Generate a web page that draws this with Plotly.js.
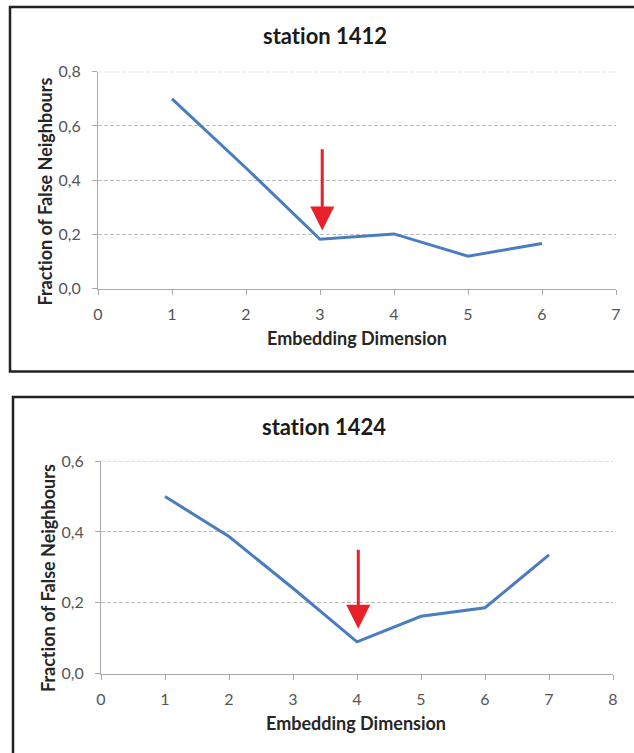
<!DOCTYPE html>
<html>
<head>
<meta charset="utf-8">
<script src="https://cdn.plot.ly/plotly-3.0.1.min.js"></script>
<style>html,body{margin:0;padding:0;background:#fff;}#chart{width:634px;height:753px;}text{font-variant-ligatures:none;font-feature-settings:"liga" 0;}</style>
</head>
<body>
<div id="chart"></div>
<script>
// ---- data ----
const titles = ['station 1412', 'station 1424'];
const xTitle = 'Embedding Dimension';
const yTitle = 'Fraction of False Neighbours';

const dims1 = [1, 2, 3, 4, 5, 6];
const fnn1  = [0.70, 0.445, 0.182, 0.202, 0.12, 0.167];

const dims2 = [1, 2, 3, 4, 5, 6, 7];
const fnn2  = [0.50, 0.387, 0.241, 0.09, 0.162, 0.186, 0.335];

const xTicks1 = [0, 1, 2, 3, 4, 5, 6, 7];
const xTicks2 = [0, 1, 2, 3, 4, 5, 6, 7, 8];
const yTickVals1 = [0, 0.2, 0.4, 0.6, 0.8];
const yTickText1 = ['0,0', '0,2', '0,4', '0,6', '0,8'];
const yTickVals2 = [0, 0.2, 0.4, 0.6];
const yTickText2 = ['0,0', '0,2', '0,4', '0,6'];

// red arrows marking the chosen embedding dimension
const arrowX    = [3.03, 4.02];
const arrowTop  = [0.52, 0.354];
const arrowTip  = [0.215, 0.127];

// ---- styles ----
const W = 634, H = 753;
const px = v => v / W;
const py = v => 1 - v / H;
const FONT = 'Lato, "Open Sans", sans-serif';
const lineColor = '#4a7dbf';
const gridColor = '#bdbdbd';
const axisColor = '#a9a9a9';

function xAxis(domain, ticks, anchor) {
  return {
    domain: domain, range: [0, ticks[ticks.length - 1]], anchor: anchor,
    tickvals: ticks, ticktext: ticks.map(String),
    showgrid: false, zeroline: false,
    showline: true, linecolor: axisColor, linewidth: 1,
    ticks: 'outside', ticklen: 5, tickcolor: axisColor,
    ticklabelstandoff: 6,
    tickfont: {family: FONT, size: 16, color: '#555'},
    fixedrange: true
  };
}
function yAxis(domain, vals, text, anchor) {
  return {
    domain: domain, range: [0, vals[vals.length - 1]], anchor: anchor,
    tickvals: vals, ticktext: text,
    showgrid: true, gridcolor: gridColor, gridwidth: 1, griddash: '4px,2px',
    zeroline: false,
    showline: true, linecolor: axisColor, linewidth: 1,
    ticks: 'outside', ticklen: 5, tickcolor: axisColor,
    ticklabelstandoff: 8,
    tickfont: {family: FONT, size: 16, color: '#555'},
    fixedrange: true
  };
}
// top gridline (Plotly hides the grid line that sits on the plot edge)
function topGrid(xr, yr, vals) {
  const top = vals[vals.length - 1];
  return {type: 'line', xref: xr + ' domain', yref: yr, x0: 0, x1: 1, y0: top, y1: top,
    line: {color: gridColor, width: 1, dash: '4px,2px'}, layer: 'below'};
}

const traces = [
  {x: dims1, y: fnn1, xaxis: 'x', yaxis: 'y', type: 'scatter', mode: 'lines',
   line: {color: lineColor, width: 3}, hoverinfo: 'skip'},
  {x: dims2, y: fnn2, xaxis: 'x2', yaxis: 'y2', type: 'scatter', mode: 'lines',
   line: {color: lineColor, width: 3}, hoverinfo: 'skip'}
];

function txt(text, x, y, size, color, angle) {
  return {text: '<b>' + text + '</b>', xref: 'paper', yref: 'paper', x: x, y: y,
    xanchor: 'center', yanchor: 'middle', showarrow: false, textangle: angle || 0,
    font: {family: FONT, size: size, color: color}};
}
function arrow(i, xr, yr) {
  return {xref: xr, yref: yr, x: arrowX[i], y: arrowTip[i],
    axref: xr, ayref: yr, ax: arrowX[i], ay: arrowTop[i],
    text: '', showarrow: true, arrowhead: 2, arrowsize: 1.6, arrowwidth: 3,
    arrowcolor: '#e8202a', standoff: 0, startstandoff: 0};
}

const layout = {
  width: W, height: H,
  margin: {l: 0, r: 0, t: 0, b: 0},
  paper_bgcolor: '#fff', plot_bgcolor: '#fff',
  showlegend: false,
  xaxis:  xAxis([px(98), px(616)], xTicks1, 'y'),
  yaxis:  yAxis([py(288.7), py(71.7)], yTickVals1, yTickText1, 'x'),
  xaxis2: xAxis([px(101), px(613)], xTicks2, 'y2'),
  yaxis2: yAxis([py(673.7), py(461)], yTickVals2, yTickText2, 'x2'),
  annotations: [
    txt(titles[0], px(325), py(36), 22, '#1a1a1a'),
    txt(titles[1], px(324), py(426), 22, '#1a1a1a'),
    txt(xTitle, px(357), py(338), 18, '#262626'),
    txt(xTitle, px(356), py(723), 18, '#262626'),
    txt(yTitle, px(44), py(191.5), 18, '#262626', -90),
    txt(yTitle, px(47.5), py(578.5), 18, '#262626', -90),
    arrow(0, 'x', 'y'),
    arrow(1, 'x2', 'y2')
  ],
  shapes: [
    topGrid('x', 'y', yTickVals1),
    topGrid('x2', 'y2', yTickVals2),
    {type: 'rect', xref: 'paper', yref: 'paper', x0: px(10), x1: 1.02, y0: py(371.5), y1: py(7),
     line: {color: '#222', width: 2.5}, fillcolor: 'rgba(0,0,0,0)'},
    {type: 'rect', xref: 'paper', yref: 'paper', x0: px(13), x1: 1.02, y0: -0.02, y1: py(397),
     line: {color: '#222', width: 2.5}, fillcolor: 'rgba(0,0,0,0)'}
  ]
};

Plotly.newPlot('chart', traces, layout, {staticPlot: true, displayModeBar: false});
</script>
</body>
</html>
